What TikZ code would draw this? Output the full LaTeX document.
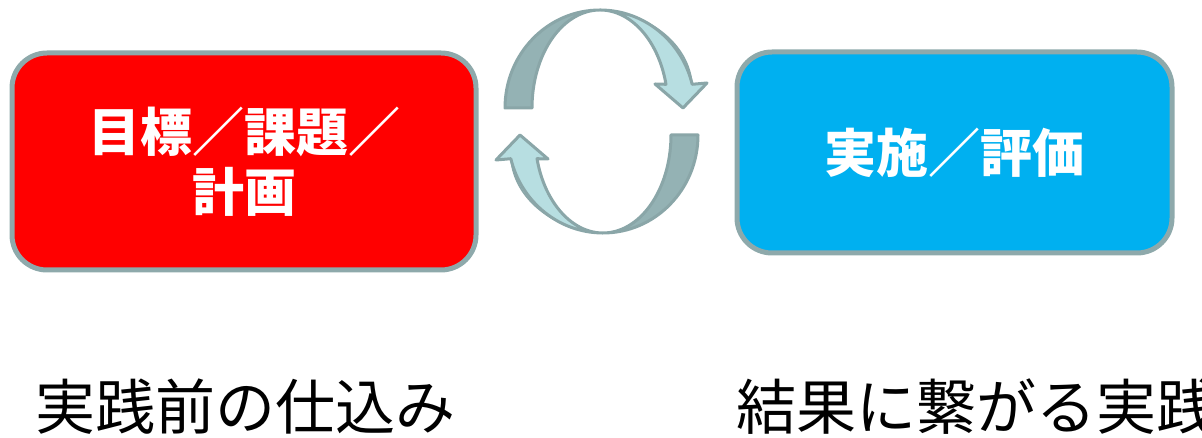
\documentclass[tikz,border=0pt]{standalone}
\usepackage{fontspec}
\setmainfont{Noto Sans CJK JP}
\definecolor{boxline}{HTML}{8EA9AB}
\definecolor{redfill}{HTML}{FF0000}
\definecolor{bluefill}{HTML}{00B0F0}
\definecolor{arrdark}{HTML}{94B2B4}
\definecolor{arrlight}{HTML}{B7DEE1}
\definecolor{arrline}{HTML}{8AA6A8}
\tikzset{
  stagebox/.style={draw=boxline, line width=5pt, rounded corners=35pt},
  boxtext/.style={text=white, font=\bfseries\fontsize{52}{60}\selectfont, align=center},
  captext/.style={font=\fontsize{60}{66}\selectfont, anchor=west, inner sep=0pt},
  arrowline/.style={draw=arrline, line width=3pt, line join=round},
}
\begin{document}
\begin{tikzpicture}[x=1pt,y=1pt]
\useasboundingbox (0,0) rectangle (1202,438);
% boxes
\path[stagebox, fill=redfill] (12,385) rectangle (476,168);
\coordinate (rc) at (244,276.5);
\node[boxtext] (plan) at (rc) {目標／課題／\\計画};
\path[stagebox, fill=bluefill] (737,386) rectangle (1172,185);
\node[boxtext] (do) at (954.5,285.5) {実施／評価};
% captions
\node[captext] (cap1) at (35,31) {実践前の仕込み};
\node[captext] (cap2) at (736,31) {結果に繋がる実践};
% cycle arrows
\foreach \rot in {0,180}{
\begin{scope}[rotate around={\rot:(601.5,316.5)}]
  % whole shape, dark
  \fill[arrdark] (505,330) arc[start angle=180,end angle=14,x radius=95,y radius=98]
     -- (707,355) -- (683,330) -- (655,354) -- (666,353.7)
     arc[start angle=14,end angle=180,x radius=68,y radius=98] -- cycle;
  % light part
  \path[fill=arrlight, arrowline, line width=1.5pt] (600,428) .. controls (648,426) and (689,394) .. (692,353.7)
     -- (707,355) -- (683,330) -- (655,354) -- (666,353.7)
     arc[start angle=14,end angle=90,x radius=68,y radius=98] -- cycle;
  % outline
  \path[arrowline] (505,330) arc[start angle=180,end angle=14,x radius=95,y radius=98]
     -- (707,355) -- (683,330) -- (655,354) -- (666,353.7)
     arc[start angle=14,end angle=180,x radius=68,y radius=98] -- cycle;
\end{scope}}
\end{tikzpicture}
\end{document}
